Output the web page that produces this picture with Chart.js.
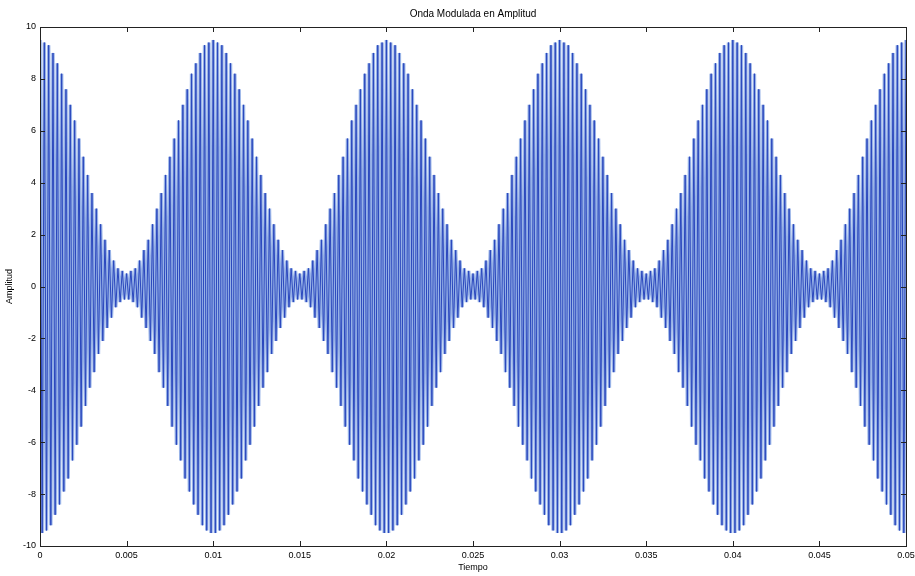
<!DOCTYPE html>
<html>
<head>
<meta charset="utf-8">
<title>Onda Modulada en Amplitud</title>
<script src="https://cdn.jsdelivr.net/npm/chart.js@4.4.1/dist/chart.umd.min.js"></script>
<style>
  html, body { margin: 0; padding: 0; background: #ffffff; }
  canvas { display: block; }
</style>
</head>
<body>
<canvas id="grafica" width="915" height="576"></canvas>
<script>
// Sampled AM signal: one value per carrier half-cycle (crest / trough), 4 kHz carrier
const pasoMuestreo = 0.000125; // seconds between successive crests and troughs

const amplitud = [
  9.5,-9.5, 9.4,-9.4, 9.3,-9.2, 9.0,-8.8, 8.6,-8.4, 8.2,-7.9, 7.6,-7.4, 7.0,-6.7, 6.4,-6.1, 5.7,-5.4,
  5.0,-4.6, 4.3,-3.9, 3.6,-3.3, 3.0,-2.6, 2.4,-2.1, 1.8,-1.6, 1.4,-1.2, 1.0,-0.8, 0.7,-0.6, 0.6,-0.5,
  0.5,-0.5, 0.6,-0.6, 0.7,-0.8, 1.0,-1.2, 1.4,-1.6, 1.8,-2.1, 2.4,-2.6, 3.0,-3.3, 3.6,-3.9, 4.3,-4.6,
  5.0,-5.4, 5.7,-6.1, 6.4,-6.7, 7.0,-7.4, 7.6,-7.9, 8.2,-8.4, 8.6,-8.8, 9.0,-9.2, 9.3,-9.4, 9.4,-9.5,
  9.5,-9.5, 9.4,-9.4, 9.3,-9.2, 9.0,-8.8, 8.6,-8.4, 8.2,-7.9, 7.6,-7.4, 7.0,-6.7, 6.4,-6.1, 5.7,-5.4,
  5.0,-4.6, 4.3,-3.9, 3.6,-3.3, 3.0,-2.6, 2.4,-2.1, 1.8,-1.6, 1.4,-1.2, 1.0,-0.8, 0.7,-0.6, 0.6,-0.5,
  0.5,-0.5, 0.6,-0.6, 0.7,-0.8, 1.0,-1.2, 1.4,-1.6, 1.8,-2.1, 2.4,-2.6, 3.0,-3.3, 3.6,-3.9, 4.3,-4.6,
  5.0,-5.4, 5.7,-6.1, 6.4,-6.7, 7.0,-7.4, 7.6,-7.9, 8.2,-8.4, 8.6,-8.8, 9.0,-9.2, 9.3,-9.4, 9.4,-9.5,
  9.5,-9.5, 9.4,-9.4, 9.3,-9.2, 9.0,-8.8, 8.6,-8.4, 8.2,-7.9, 7.6,-7.4, 7.0,-6.7, 6.4,-6.1, 5.7,-5.4,
  5.0,-4.6, 4.3,-3.9, 3.6,-3.3, 3.0,-2.6, 2.4,-2.1, 1.8,-1.6, 1.4,-1.2, 1.0,-0.8, 0.7,-0.6, 0.6,-0.5,
  0.5,-0.5, 0.6,-0.6, 0.7,-0.8, 1.0,-1.2, 1.4,-1.6, 1.8,-2.1, 2.4,-2.6, 3.0,-3.3, 3.6,-3.9, 4.3,-4.6,
  5.0,-5.4, 5.7,-6.1, 6.4,-6.7, 7.0,-7.4, 7.6,-7.9, 8.2,-8.4, 8.6,-8.8, 9.0,-9.2, 9.3,-9.4, 9.4,-9.5,
  9.5,-9.5, 9.4,-9.4, 9.3,-9.2, 9.0,-8.8, 8.6,-8.4, 8.2,-7.9, 7.6,-7.4, 7.0,-6.7, 6.4,-6.1, 5.7,-5.4,
  5.0,-4.6, 4.3,-3.9, 3.6,-3.3, 3.0,-2.6, 2.4,-2.1, 1.8,-1.6, 1.4,-1.2, 1.0,-0.8, 0.7,-0.6, 0.6,-0.5,
  0.5,-0.5, 0.6,-0.6, 0.7,-0.8, 1.0,-1.2, 1.4,-1.6, 1.8,-2.1, 2.4,-2.6, 3.0,-3.3, 3.6,-3.9, 4.3,-4.6,
  5.0,-5.4, 5.7,-6.1, 6.4,-6.7, 7.0,-7.4, 7.6,-7.9, 8.2,-8.4, 8.6,-8.8, 9.0,-9.2, 9.3,-9.4, 9.4,-9.5,
  9.5,-9.5, 9.4,-9.4, 9.3,-9.2, 9.0,-8.8, 8.6,-8.4, 8.2,-7.9, 7.6,-7.4, 7.0,-6.7, 6.4,-6.1, 5.7,-5.4,
  5.0,-4.6, 4.3,-3.9, 3.6,-3.3, 3.0,-2.6, 2.4,-2.1, 1.8,-1.6, 1.4,-1.2, 1.0,-0.8, 0.7,-0.6, 0.6,-0.5,
  0.5,-0.5, 0.6,-0.6, 0.7,-0.8, 1.0,-1.2, 1.4,-1.6, 1.8,-2.1, 2.4,-2.6, 3.0,-3.3, 3.6,-3.9, 4.3,-4.6,
  5.0,-5.4, 5.7,-6.1, 6.4,-6.7, 7.0,-7.4, 7.6,-7.9, 8.2,-8.4, 8.6,-8.8, 9.0,-9.2, 9.3,-9.4, 9.4,-9.5,
  9.5
];

// Axis ticks
const ticksTiempo = [0, 0.005, 0.01, 0.015, 0.02, 0.025, 0.03, 0.035, 0.04, 0.045, 0.05];
const ticksAmplitud = [-10, -8, -6, -4, -2, 0, 2, 4, 6, 8, 10];

const puntos = amplitud.map((v, i) => ({ x: i * pasoMuestreo, y: v }));

const fuente = "'Liberation Sans', Arial, sans-serif";

// Inward tick marks on all four sides plus the closed box around the plot
const cajaConMarcas = {
  id: 'cajaConMarcas',
  afterDraw(chart) {
    const { ctx, chartArea: a, scales } = chart;
    const largo = 5;
    ctx.save();
    ctx.strokeStyle = '#222222';
    ctx.lineWidth = 1;
    ctx.beginPath();
    ticksTiempo.forEach(t => {
      const px = Math.round(scales.x.getPixelForValue(t)) + 0.5;
      ctx.moveTo(px, a.bottom); ctx.lineTo(px, a.bottom - largo);
      ctx.moveTo(px, a.top); ctx.lineTo(px, a.top + largo);
    });
    ticksAmplitud.forEach(v => {
      const py = Math.round(scales.y.getPixelForValue(v)) + 0.5;
      ctx.moveTo(a.left, py); ctx.lineTo(a.left + largo, py);
      ctx.moveTo(a.right, py); ctx.lineTo(a.right - largo, py);
    });
    ctx.stroke();
    ctx.strokeRect(Math.round(a.left) + 0.5, Math.round(a.top) + 0.5,
                   Math.round(a.right - a.left), Math.round(a.bottom - a.top));
    ctx.restore();
  }
};

new Chart(document.getElementById('grafica'), {
  type: 'line',
  data: {
    datasets: [
      {
        // thin dark trace on top
        data: puntos,
        borderColor: '#2a47bd',
        borderWidth: 1,
        borderJoinStyle: 'bevel',
        pointRadius: 0,
        tension: 0,
        fill: false,
        order: 0
      },
      {
        // soft halo of the same trace underneath
        data: puntos,
        borderColor: 'rgba(140, 170, 228, 0.9)',
        borderWidth: 3.4,
        borderJoinStyle: 'bevel',
        pointRadius: 0,
        tension: 0,
        fill: false,
        order: 1
      }
    ]
  },
  options: {
    responsive: false,
    devicePixelRatio: 1,
    animation: false,
    layout: { padding: { top: 0, right: 9, bottom: 0, left: 0 } },
    plugins: {
      legend: { display: false },
      tooltip: { enabled: false },
      title: {
        display: true,
        text: 'Onda Modulada en Amplitud',
        fullSize: false,
        color: '#000000',
        font: { family: fuente, size: 10, weight: 'normal' },
        padding: { top: 8, bottom: 7 }
      }
    },
    scales: {
      x: {
        type: 'linear',
        min: 0,
        max: 0.05,
        afterBuildTicks(scale) { scale.ticks = ticksTiempo.map(v => ({ value: v })); },
        afterFit(scale) {
          scale.height = 30;
          scale.paddingLeft = 0;
          scale.paddingRight = 0;
        },
        grid: { display: false, drawTicks: false },
        border: { display: false },
        ticks: {
          padding: 4,
          color: '#000000',
          maxRotation: 0,
          autoSkip: false,
          font: { family: fuente, size: 9 },
          callback: v => String(Number(v.toFixed(3)))
        },
        title: {
          display: true,
          text: 'Tiempo',
          color: '#000000',
          font: { family: fuente, size: 9 },
          padding: { top: 0, bottom: 3 }
        }
      },
      y: {
        type: 'linear',
        min: -10,
        max: 10,
        afterBuildTicks(scale) { scale.ticks = ticksAmplitud.map(v => ({ value: v })); },
        afterFit(scale) { scale.width = 40; },
        grid: { display: false, drawTicks: false },
        border: { display: false },
        ticks: {
          padding: 4,
          color: '#000000',
          autoSkip: false,
          font: { family: fuente, size: 9 }
        },
        title: {
          display: true,
          text: 'Amplitud',
          color: '#000000',
          font: { family: fuente, size: 9 },
          padding: { top: 4, bottom: 0 }
        }
      }
    }
  },
  plugins: [cajaConMarcas]
});
</script>
</body>
</html>
